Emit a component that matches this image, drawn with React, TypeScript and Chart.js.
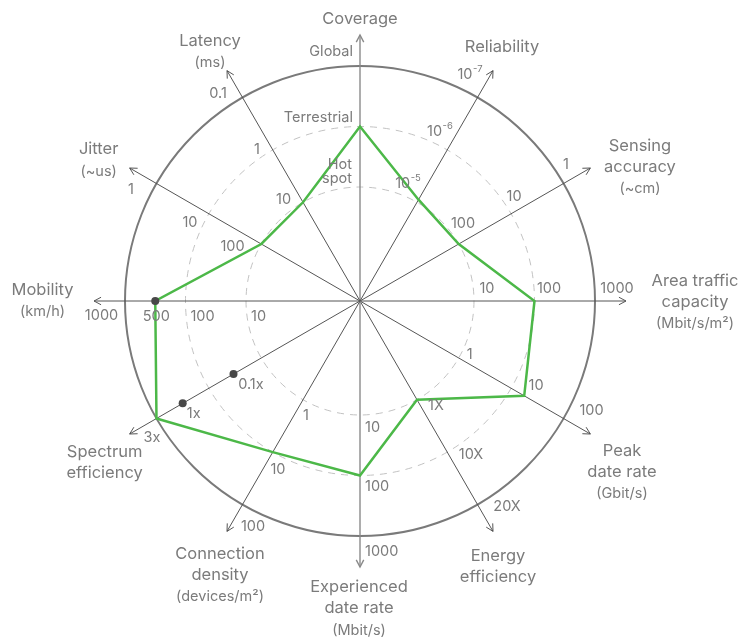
import React, { useEffect, useRef } from "react";
import { Chart, registerables } from "chart.js";

Chart.register(...registerables);

// ---------- data ----------
const axisNames: string[][] = [
  ["Coverage"],
  ["Reliability"],
  ["Sensing", "accuracy"],
  ["Area traffic", "capacity"],
  ["Peak", "date rate"],
  ["Energy", "efficiency"],
  ["Experienced", "date rate"],
  ["Connection", "density"],
  ["Spectrum", "efficiency"],
  ["Mobility"],
  ["Jitter"],
  ["Latency"],
];
const axisUnits: string[] = [
  "", "", "(~cm)", "(Mbit/s/m²)", "(Gbit/s)", "", "(Mbit/s)", "(devices/m²)", "", "(km/h)", "(~us)", "(ms)",
];

// levels: 1 = inner dashed ring, 2 = middle dashed ring, 3 = outer solid ring
const targetLevels: number[] = [2, 1.05, 1, 2, 2.25, 1, 2, 2, 3, 2.5, 1, 1];
const markerLevelsA: (number | null)[] = [null, null, null, null, null, null, null, null, 1.53, 2.5, null, null];
const markerLevelsB: (number | null)[] = [null, null, null, null, null, null, null, null, 2.5, null, null, null];

const dashedRingLevels = [1, 2];
const outerRingLevel = 3;
const SCALE_MIN = -0.884;
const SCALE_MAX = 3;

const tickTexts: string[][] = [
  ["Hot\nspot", "Terrestrial", "Global"],
  ["10^-5", "10^-6", "10^-7"],
  ["100", "10", "1"],
  ["10", "100", "1000"],
  ["1", "10", "100"],
  ["1X", "10X", "20X"],
  ["10", "100", "1000"],
  ["1", "10", "100"],
  ["0.1x", "1x", "3x"],
  ["10", "100", "500", "1000"],
  ["100", "10", "1"],
  ["10", "1", "0.1"],
];
const tickLevels: number[][] = [
  [1, 2, 3],
  [1, 2, 3],
  [1, 2, 3],
  [1, 2, 3],
  [1, 2, 3],
  [1, 2, 3],
  [1, 2, 3],
  [1, 2, 3],
  [1.53, 2.5, 3],
  [1, 2, 2.5, 3],
  [1, 2, 3],
  [1, 2, 3],
];

// ---------- layout (pixel offsets of texts from their anchor) ----------
type Off = [number, number, CanvasTextAlign?];
const tickOffsets: Off[][] = [
  [[-8, -22.5, "right"], [-7, -9, "right"], [-7, -14, "right"]],
  [[-9, -18.3], [-7.3, -18], [-7.5, -22.5]],
  [[4.3, -20], [2.9, -16.8], [2.5, -18.5]],
  [[13, -12], [14.5, -12], [22, -12]],
  [[11, -3], [25, -3], [28, -7.5]],
  [[19, 6.3], [23.7, 2.9], [29.5, 2.5]],
  [[5, 13, "left"], [5, 11.5, "left"], [5, 16, "left"]],
  [[3, 16.3], [5.2, 17.9], [10.5, 22.5]],
  [[17.4, 11], [11, 9.8], [-4.5, 19.5]],
  [[12.5, 15.5], [17, 15.5], [1, 15.5], [-23.5, 15]],
  [[-28.8, 2.5], [-18.9, 9.2], [-25.5, 6]],
  [[-19.5, -2.3], [-15.8, 0.1], [-24.5, -4]],
];
// offset of first label line centre from arrow tip
const nameOffsets: [number, number][] = [
  [0, -15.5], [9, -23.6], [49.6, -22], [69, -20], [31.6, 17], [5, 24.6],
  [-1, 20.5], [-7, 22.6], [-25, 18], [-51.5, -11], [-31, -18.5], [-17, -30],
];

const FONT = "Inter, 'Noto Sans', sans-serif";
const TEXT_COLOR = "#7b7b7b";
const TICK_SIZE = 14.5;
const TIP_RATIO = 266 / 235;

function drawTickText(ctx: CanvasRenderingContext2D, text: string, x: number, y: number, align: CanvasTextAlign) {
  ctx.textBaseline = "middle";
  if (text.includes("^")) {
    const [base, sup] = text.split("^");
    ctx.font = `${TICK_SIZE}px ${FONT}`;
    const wb = ctx.measureText(base).width;
    ctx.font = `9.5px ${FONT}`;
    const ws = ctx.measureText(sup).width;
    const total = wb + ws + 0.5;
    let sx = x - total / 2;
    if (align === "left") sx = x;
    if (align === "right") sx = x - total;
    ctx.textAlign = "left";
    ctx.font = `${TICK_SIZE}px ${FONT}`;
    ctx.fillText(base, sx, y);
    ctx.font = `9.5px ${FONT}`;
    ctx.fillText(sup, sx + wb + 0.5, y - 5.5);
    return;
  }
  ctx.font = `${TICK_SIZE}px ${FONT}`;
  ctx.textAlign = align;
  const lines = text.split("\n");
  lines.forEach((ln, k) => ctx.fillText(ln, x, y + k * 14));
}

const decorPlugin = {
  id: "decor",
  beforeDatasetsDraw(chart: any) {
    const s = chart.scales.r;
    const ctx: CanvasRenderingContext2D = chart.ctx;
    const cx = s.xCenter;
    const cy = s.yCenter;
    ctx.save();
    // dashed rings
    ctx.setLineDash([7, 6]);
    ctx.strokeStyle = "#c2c2c2";
    ctx.lineWidth = 1;
    dashedRingLevels.forEach((lv) => {
      const r = s.getDistanceFromCenterForValue(lv);
      ctx.beginPath();
      ctx.arc(cx, cy, r, 0, Math.PI * 2);
      ctx.stroke();
    });
    ctx.setLineDash([]);
    // outer ring
    ctx.strokeStyle = "#7a7a7a";
    ctx.lineWidth = 2;
    ctx.beginPath();
    ctx.arc(cx, cy, s.getDistanceFromCenterForValue(outerRingLevel), 0, Math.PI * 2);
    ctx.stroke();
    // axes with arrows
    const tipR = s.drawingArea * TIP_RATIO;
    for (let i = 0; i < axisNames.length; i++) {
      const p = s.getPointPosition(i, tipR);
      const vertical = i === 0 || i === 6;
      ctx.strokeStyle = vertical ? "#8a8a8a" : "#555555";
      ctx.lineWidth = vertical ? 1.4 : 1;
      ctx.beginPath();
      ctx.moveTo(cx, cy);
      ctx.lineTo(p.x, p.y);
      ctx.stroke();
      const a = Math.atan2(p.y - cy, p.x - cx);
      const L = 8;
      const phi = (28 * Math.PI) / 180;
      ctx.beginPath();
      ctx.moveTo(p.x - L * Math.cos(a - phi), p.y - L * Math.sin(a - phi));
      ctx.lineTo(p.x, p.y);
      ctx.lineTo(p.x - L * Math.cos(a + phi), p.y - L * Math.sin(a + phi));
      ctx.stroke();
    }
    ctx.restore();
  },
  afterDatasetsDraw(chart: any) {
    const s = chart.scales.r;
    const ctx: CanvasRenderingContext2D = chart.ctx;
    ctx.save();
    ctx.fillStyle = TEXT_COLOR;
    // tick labels
    tickTexts.forEach((texts, i) => {
      texts.forEach((t, k) => {
        const p = s.getPointPositionForValue(i, tickLevels[i][k]);
        const off = tickOffsets[i][k];
        drawTickText(ctx, t, p.x + off[0], p.y + off[1], off[2] || "center");
      });
    });
    // axis names
    const tipR = s.drawingArea * TIP_RATIO;
    axisNames.forEach((lines, i) => {
      const p = s.getPointPosition(i, tipR);
      const x = p.x + nameOffsets[i][0];
      const y = p.y + nameOffsets[i][1];
      ctx.textAlign = "center";
      ctx.textBaseline = "middle";
      ctx.font = `16.5px ${FONT}`;
      lines.forEach((ln, k) => {
        ctx.fillText(ln, x, y + k * 21);
      });
      if (axisUnits[i]) {
        ctx.font = `14.5px ${FONT}`;
        ctx.fillText(axisUnits[i], x, y + (lines.length - 1) * 21 + 22);
      }
    });
    ctx.restore();
  },
};

export default function App() {
  const ref = useRef<HTMLCanvasElement | null>(null);
  useEffect(() => {
    if (!ref.current) return;
    const markerStyle = {
      showLine: false,
      fill: false,
      backgroundColor: "transparent",
      pointRadius: 4,
      pointBackgroundColor: "#484848",
      pointBorderWidth: 0,
      borderColor: "transparent",
      order: 1,
    };
    const chart = new Chart(ref.current, {
      type: "radar",
      data: {
        labels: axisNames.map((a) => a.join(" ")),
        datasets: [
          {
            data: targetLevels,
            borderColor: "#4cb848",
            borderWidth: 2.5,
            backgroundColor: "transparent",
            fill: false,
            pointRadius: 0,
            borderJoinStyle: "miter",
            order: 2,
          },
          { data: markerLevelsA as any, ...markerStyle },
          { data: markerLevelsB as any, ...markerStyle },
        ],
      },
      options: {
        responsive: false,
        animation: false,
        layout: { padding: { left: 125, top: 66, right: 160, bottom: 101 } },
        plugins: { legend: { display: false }, tooltip: { enabled: false } },
        scales: {
          r: {
            min: SCALE_MIN,
            max: SCALE_MAX,
            ticks: { display: false },
            grid: { display: false },
            angleLines: { display: false },
            pointLabels: { display: false },
          },
        },
      },
      plugins: [decorPlugin],
    } as any);
    return () => chart.destroy();
  }, []);
  return (
    <div style={{ position: "fixed", left: 0, top: 0, width: 755, height: 637, background: "#fff" }}>
      <canvas ref={ref} width={755} height={637} style={{ display: "block" }} />
    </div>
  );
}
